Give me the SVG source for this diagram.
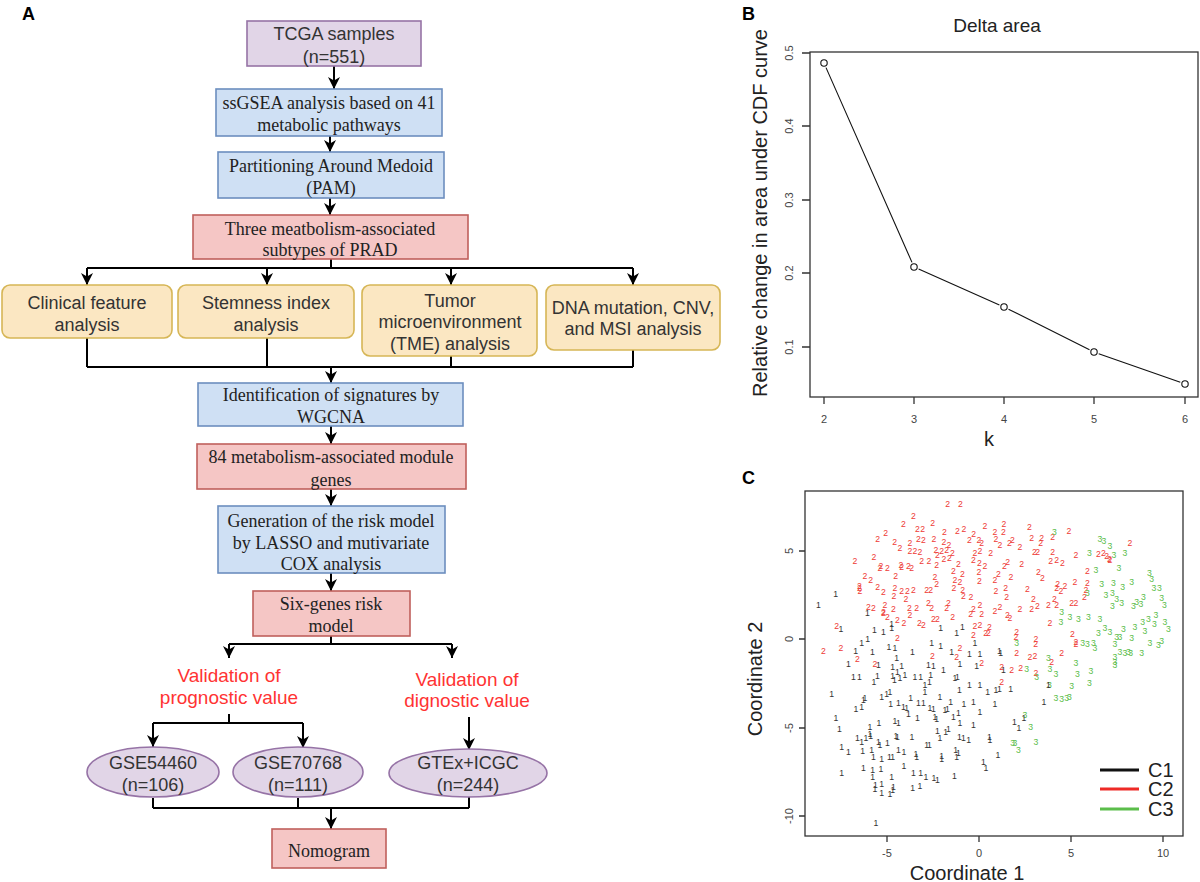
<svg xmlns="http://www.w3.org/2000/svg" width="1200" height="882" viewBox="0 0 1200 882">
<defs>
<style>
.bx{stroke-width:1.6}
.pur{fill:#e1d5e7;stroke:#9673a6}
.blu{fill:#cfe0f4;stroke:#6c8ebf}
.red{fill:#f5c6c5;stroke:#c0605c}
.yel{fill:#fbe7c2;stroke:#d6b656}
.sans{font-family:"Liberation Sans",Arial,sans-serif}
.serif{font-family:"Liberation Serif","Times New Roman",serif}
.t18{font-size:18px;text-anchor:middle;fill:#333}
.s18{font-size:18px;text-anchor:middle;fill:#222}
.rt{font-size:19px;text-anchor:middle;fill:#f33}
.lbl{font-family:"Liberation Sans",Arial,sans-serif;font-weight:bold;font-size:18px;fill:#000}
.con{fill:none;stroke:#000;stroke-width:2}
.arr{marker-end:url(#ah)}
.tick{stroke:#333;stroke-width:1.3}
.tl{font-family:"Liberation Sans",Arial,sans-serif;font-size:11px;fill:#444;text-anchor:middle}
.ax{font-family:"Liberation Sans",Arial,sans-serif;font-size:20px;fill:#222;text-anchor:middle}
.pts{font-family:"Liberation Sans",Arial,sans-serif;font-size:26px;text-anchor:middle}
</style>
<marker id="ah" viewBox="0 0 10 10" refX="10" refY="5" markerWidth="12" markerHeight="12" markerUnits="userSpaceOnUse" orient="auto">
<path d="M0,0 L10,5 L0,10 L3,5 z" fill="#000"/>
</marker>
</defs>
<rect width="1200" height="882" fill="#fff"/>

<text class="lbl" x="22" y="20">A</text>
<text class="lbl" x="742" y="20">B</text>
<text class="lbl" x="742" y="484">C</text>

<g id="connectors">
<path class="con arr" d="M334,66 V89"/>
<path class="con arr" d="M330,136 V152"/>
<path class="con arr" d="M330,198 V215"/>
<path class="con" d="M331,259 V268 M87,268 H633"/>
<path class="con arr" d="M87,268 V285"/>
<path class="con arr" d="M267,268 V285"/>
<path class="con arr" d="M451,268 V285"/>
<path class="con arr" d="M633,268 V285"/>
<path class="con" d="M87,338 V367 M267,338 V367 M451,356 V367 M633,350 V367 M87,367 H633"/>
<path class="con arr" d="M331,367 V383"/>
<path class="con arr" d="M331,426 V444"/>
<path class="con arr" d="M331,489 V506"/>
<path class="con arr" d="M331,573 V591"/>
<path class="con" d="M331,636 V644 M229,644 H452"/>
<path class="con arr" d="M229,644 V658"/>
<path class="con arr" d="M452,644 V658"/>
<path class="con" d="M229,714 V723 M153,723 H303"/>
<path class="con arr" d="M153,723 V747"/>
<path class="con arr" d="M303,723 V748"/>
<path class="con arr" d="M469,717 V750"/>
<path class="con" d="M153,798 V808 M298,798 V808 M469,797 V808 M153,808 H469"/>
<path class="con arr" d="M331,808 V829"/>
</g>

<g id="tcga"><rect class="bx pur" x="247" y="21" width="174" height="45"/>
<text class="sans t18" x="334" y="40">TCGA samples</text><text class="sans t18" x="334" y="63">(n=551)</text></g>
<g id="ssgsea"><rect class="bx blu" x="216" y="89" width="226" height="47"/>
<text class="serif s18" x="329" y="109">ssGSEA analysis based on 41</text><text class="serif s18" x="329" y="131">metabolic pathways</text></g>
<g id="pam"><rect class="bx blu" x="218" y="152" width="226" height="46"/>
<text class="serif s18" x="331" y="172">Partitioning Around Medoid</text><text class="serif s18" x="331" y="194">(PAM)</text></g>
<g id="subtypes"><rect class="bx red" x="193" y="215" width="275" height="44"/>
<text class="serif s18" x="330" y="235">Three meatbolism-associated</text><text class="serif s18" x="330" y="256">subtypes of PRAD</text></g>
<g id="clinical"><rect class="bx yel" x="2" y="285" width="170" height="53" rx="8"/>
<text class="sans t18" x="87" y="309">Clinical feature</text><text class="sans t18" x="87" y="331">analysis</text></g>
<g id="stemness"><rect class="bx yel" x="178" y="285" width="176" height="53" rx="8"/>
<text class="sans t18" x="266" y="309">Stemness index</text><text class="sans t18" x="266" y="331">analysis</text></g>
<g id="tme"><rect class="bx yel" x="362" y="285" width="175" height="71" rx="8"/>
<text class="sans t18" x="450" y="307">Tumor</text><text class="sans t18" x="450" y="328">microenvironment</text><text class="sans t18" x="450" y="350">(TME) analysis</text></g>
<g id="dna"><rect class="bx yel" x="546" y="285" width="174" height="65" rx="8"/>
<text class="sans t18" x="633" y="314">DNA mutation, CNV,</text><text class="sans t18" x="633" y="335">and MSI analysis</text></g>
<g id="wgcna"><rect class="bx blu" x="198" y="383" width="265" height="43"/>
<text class="serif s18" x="331" y="401">Identification of signatures by</text><text class="serif s18" x="331" y="423">WGCNA</text></g>
<g id="genes84"><rect class="bx red" x="197" y="444" width="269" height="45"/>
<text class="serif s18" x="331" y="463">84 metabolism-associated module</text><text class="serif s18" x="331" y="486">genes</text></g>
<g id="riskgen"><rect class="bx blu" x="218" y="506" width="227" height="67"/>
<text class="serif s18" x="331" y="527">Generation of the risk model</text><text class="serif s18" x="331" y="549">by LASSO and mutivariate</text><text class="serif s18" x="331" y="570">COX analysis</text></g>
<g id="sixgenes"><rect class="bx red" x="253" y="591" width="157" height="45"/>
<text class="serif s18" x="331" y="610">Six-genes risk</text><text class="serif s18" x="331" y="632">model</text></g>
<g id="valprog"><text class="sans rt" x="229" y="682">Validation of</text><text class="sans rt" x="229" y="704">prognostic value</text></g>
<g id="valdiag"><text class="sans rt" x="467" y="686">Validation of</text><text class="sans rt" x="467" y="707">dignostic value</text></g>
<g id="gse54460"><ellipse class="bx pur" cx="153" cy="772" rx="66" ry="25"/>
<text class="sans t18" x="153" y="769">GSE54460</text><text class="sans t18" x="153" y="791">(n=106)</text></g>
<g id="gse70768"><ellipse class="bx pur" cx="298" cy="772" rx="65" ry="25"/>
<text class="sans t18" x="298" y="769">GSE70768</text><text class="sans t18" x="298" y="791">(n=111)</text></g>
<g id="gtex"><ellipse class="bx pur" cx="468" cy="773" rx="79" ry="24"/>
<text class="sans t18" x="468" y="769">GTEx+ICGC</text><text class="sans t18" x="468" y="791">(n=244)</text></g>
<g id="nomogram"><rect class="bx red" x="272" y="829" width="114" height="39"/>
<text class="serif s18" x="329" y="857">Nomogram</text></g>

<g id="panelB">
<text class="sans" x="997" y="32" font-size="19" text-anchor="middle" fill="#222">Delta area</text>
<rect x="810" y="52" width="388" height="345" fill="none" stroke="#333" stroke-width="1.3"/>
<path class="tick" d="M802,53 H810 M802,126 H810 M802,200 H810 M802,273 H810 M802,347 H810"/>
<text class="tl" transform="rotate(-90 793 53)" x="793" y="53">0.5</text>
<text class="tl" transform="rotate(-90 793 126)" x="793" y="126">0.4</text>
<text class="tl" transform="rotate(-90 793 200)" x="793" y="200">0.3</text>
<text class="tl" transform="rotate(-90 793 273)" x="793" y="273">0.2</text>
<text class="tl" transform="rotate(-90 793 347)" x="793" y="347">0.1</text>
<path class="tick" d="M824,397 V404 M914,397 V404 M1004,397 V404 M1094,397 V404 M1185,397 V404"/>
<g class="tl" font-size="12" fill="#333">
<text x="824" y="423">2</text><text x="914" y="423">3</text><text x="1004" y="423">4</text><text x="1094" y="423">5</text><text x="1185" y="423">6</text>
</g>
<text class="ax" x="989" y="446">k</text>
<text class="ax" font-size="19.5" transform="rotate(-90 767 213)" x="767" y="213">Relative change in area under CDF curve</text>
<path d="M826,67.6 L912,262.4 M918.6,269 L999.4,305 M1008.5,309.2 L1089.5,349.8 M1098.7,353.7 L1180.3,382.3" fill="none" stroke="#111" stroke-width="1.1"/>
<g fill="#fff" stroke="#111" stroke-width="1.1">
<circle cx="824" cy="63" r="3.2"/><circle cx="914" cy="267" r="3.2"/><circle cx="1004" cy="307" r="3.2"/><circle cx="1094" cy="352" r="3.2"/><circle cx="1185" cy="384" r="3.2"/>
</g>
</g>

<g id="panelC">
<rect x="805" y="491" width="378" height="345" fill="none" stroke="#333" stroke-width="1.3"/>
<path class="tick" d="M799,551 H805 M799,639 H805 M799,728 H805 M799,816 H805"/>
<text class="tl" transform="rotate(-90 793 551)" x="793" y="551">5</text>
<text class="tl" transform="rotate(-90 793 639)" x="793" y="639">0</text>
<text class="tl" transform="rotate(-90 793 728)" x="793" y="728">-5</text>
<text class="tl" transform="rotate(-90 793 816)" x="793" y="816">-10</text>
<path class="tick" d="M887,836 V842 M979,836 V842 M1071,836 V842 M1163,836 V842"/>
<text class="tl" x="887" y="857">-5</text><text class="tl" x="979" y="857">0</text><text class="tl" x="1071" y="857">5</text><text class="tl" x="1163" y="857">10</text>
<text class="ax" x="967" y="880">Coordinate 1</text>
<text class="ax" transform="rotate(-90 762 679)" x="762" y="679">Coordinate 2</text>

<g transform="translate(800,483) scale(0.33333)">
<text class="pts" fill="#ee3a36" x="443 481 340 310 398 352 368 433 472 492 555 612 688 585 610 521 807 233 257 284 300 330 355 370 402 432 447 508 537 545 588 600 628 637 660 695 725 722 758 330 345 360 408 425 440 457 412 525 540 572 703 713 758 222 165 243 262 303 305 325 335 365 387 410 432 448 475 520 538 555 613 623 665 752 770 787 828 910 928 195 212 240 287 405 460 487 465 480 537 538 585 595 633 715 727 862 178 180 233 250 285 282 305 322 340 380 392 410 462 488 490 513 588 617 620 682 773 770 783 795 825 862 858 853 205 220 255 280 250 262 318 328 350 330 385 395 440 445 520 545 540 512 585 600 622 630 660 695 700 712 745 763 770 815 828 110 123 70 172 292 312 292 358 370 400 412 458 525 540 568 565 520 557 470 480 397 650 690 705 650 648 708 707 750 817 828 828 785 990 895 920 930 178 250" y="73 73 108 133 130 147 147 157 152 147 138 132 140 157 157 163 152 178 158 185 203 190 177 180 177 187 195 180 180 190 178 195 188 180 200 175 175 190 170 213 213 215 210 213 210 218 225 218 213 218 215 215 215 230 243 258 263 255 262 258 265 243 243 255 238 235 253 240 248 258 258 245 253 243 240 250 225 218 238 288 300 265 288 290 273 282 300 307 275 302 300 282 292 275 295 272 318 333 322 337 325 347 333 333 330 330 330 313 325 330 348 350 333 325 352 327 313 325 332 318 307 310 330 352 382 385 375 388 400 410 358 385 383 405 370 385 385 370 388 403 375 402 392 380 405 413 388 388 358 378 375 358 376 368 370 438 505 513 537 420 430 475 430 435 418 418 410 438 435 440 460 465 460 530 505 527 518 530 528 455 470 478 492 428 462 485 492 520 188 222 228 240 325 395"><tspan>2222222222</tspan><tspan>2222222222</tspan><tspan>2222222222</tspan><tspan>2222222222</tspan><tspan>2222222222</tspan><tspan>2222222222</tspan><tspan>2222222222</tspan><tspan>2222222222</tspan><tspan>2222222222</tspan><tspan>2222222222</tspan><tspan>2222222222</tspan><tspan>2222222222</tspan><tspan>2222222222</tspan><tspan>2222222222</tspan><tspan>2222222222</tspan><tspan>2222222222</tspan><tspan>2222222222</tspan><tspan>2222222222</tspan><tspan>2222222222</tspan><tspan>2222</tspan></text>
<text class="pts" fill="#333" x="107 55 202 123 223 250 275 275 422 487 470 185 203 267 285 217 167 290 337 395 422 455 508 540 598 602 525" y="342 375 400 447 450 455 433 445 445 440 460 490 478 500 503 515 512 535 515 488 498 515 522 522 512 520 488"><tspan>1111111111</tspan><tspan>1111111111</tspan><tspan>1111111</tspan></text>
<text class="pts" fill="#5bbd4a" x="763 900 912 930 868 942 975 888 957 1048 1055 905 940 968 995 918 937 950 937 965 1000 1010 1023 1030 1062 1078 1085 1093 862 785 810 835 865 900 895 915 930 950 960 970 995 1005 1028 1045 1063 1068 1095 1105 992 945 960 975 985 1025 1050 1075 1085 848 862 880 885 945 745 783 650 1035" y="157 178 182 198 220 225 220 270 265 280 297 312 310 322 307 345 340 358 378 368 378 365 373 352 325 325 355 376 338 397 412 418 412 418 460 445 455 472 472 448 475 440 427 418 432 405 425 447 518 493 515 518 515 518 488 495 482 490 492 488 505 530 535 425 488 452"><tspan>3333333333</tspan><tspan>3333333333</tspan><tspan>3333333333</tspan><tspan>3333333333</tspan><tspan>3333333333</tspan><tspan>3333333333</tspan><tspan>333333</tspan></text>
</g>

<g transform="translate(800,663) scale(0.33333)">
<text class="pts" fill="#ee3a36" x="225 545 605 635 662 708 605 755" y="12 10 20 30 25 38 65 5"><tspan>22222222</tspan></text>
<text class="pts" fill="#5bbd4a" x="680 750 768 828 832 873 945 748 815 868 768 785 800 808 675 692 638 645 655 708 710 945" y="28 28 42 8 42 32 15 75 78 68 115 118 115 112 165 202 250 250 270 245 50 5"><tspan>3333333333</tspan><tspan>3333333333</tspan><tspan>33</tspan></text>
<text class="pts" fill="#333" x="145 235 278 292 305 385 400 430 480 530 610 160 178 222 232 278 283 300 315 345 362 375 388 392 465 472 95 190 195 245 260 270 332 375 420 452 478 508 540 563 588 632 745 732 168 185 272 295 310 320 325 355 370 390 400 435 442 475 492 520 540 585 108 118 210 237 285 295 352 405 410 460 480 520 643 657 672 210 172 185 198 212 235 240 262 288 292 336 380 388 412 420 437 445 478 490 506 568 570 125 145 188 215 220 245 268 278 295 312 348 350 425 425 467 470 475 594 312 125 190 218 218 243 275 340 362 378 402 412 463 226 225 245 245 280 278 270 338 360 228 550 558 598" y="12 15 22 35 18 15 18 30 12 18 30 50 50 65 48 48 60 55 45 50 50 75 65 45 55 50 102 120 115 110 102 95 115 95 110 125 90 75 75 95 90 88 75 125 148 140 132 130 140 145 162 128 128 145 148 150 148 160 132 125 155 132 175 208 200 190 183 190 175 170 178 172 188 195 185 205 175 222 235 245 235 228 245 255 248 228 232 232 255 255 212 235 215 207 230 235 240 230 240 262 275 272 270 290 298 292 292 270 275 282 292 288 298 270 290 278 285 318 338 325 330 352 327 350 338 338 352 355 360 348 375 388 372 398 380 390 402 385 378 490 305 325 88"><tspan>1111111111</tspan><tspan>1111111111</tspan><tspan>1111111111</tspan><tspan>1111111111</tspan><tspan>1111111111</tspan><tspan>1111111111</tspan><tspan>1111111111</tspan><tspan>1111111111</tspan><tspan>1111111111</tspan><tspan>1111111111</tspan><tspan>1111111111</tspan><tspan>1111111111</tspan><tspan>1111111111</tspan><tspan>1111111111</tspan><tspan>111</tspan></text>
</g>

<g id="legend">
<path d="M1100,770 H1139" stroke="#111" stroke-width="3"/>
<path d="M1100,789 H1139" stroke="#ee2a26" stroke-width="3"/>
<path d="M1100,809 H1139" stroke="#5bbd4a" stroke-width="3"/>
<text class="sans" x="1148" y="777" font-size="20" fill="#222">C1</text>
<text class="sans" x="1148" y="796" font-size="20" fill="#222">C2</text>
<text class="sans" x="1148" y="816" font-size="20" fill="#222">C3</text>
</g>
</g>
</svg>
